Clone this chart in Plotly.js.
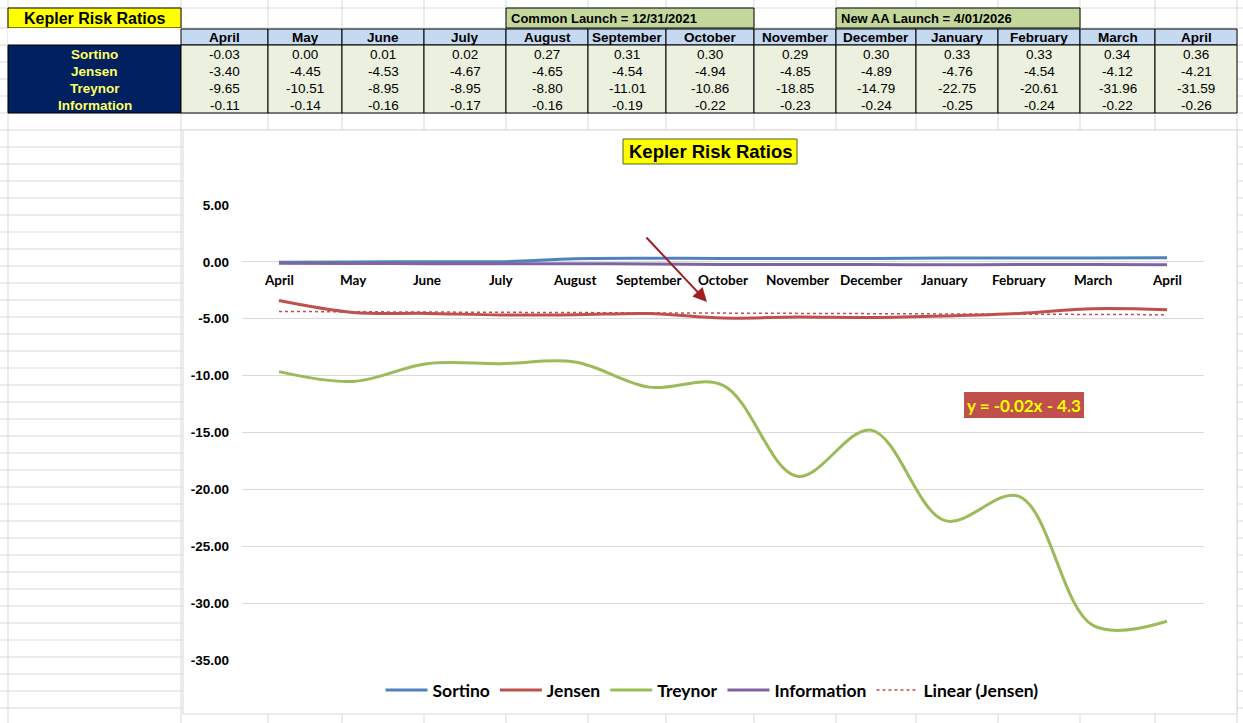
<!DOCTYPE html>
<html>
<head>
<meta charset="utf-8">
<script src="https://cdn.plot.ly/plotly-3.0.1.min.js"></script>
<style>
  html, body { margin: 0; padding: 0; background: #fff; }
  #chart { width: 1243px; height: 723px; }
</style>
</head>
<body>
<div id="chart"></div>
<script>
// ---- data ----
const months = ["April", "May", "June", "July", "August", "September", "October",
  "November", "December", "January", "February", "March", "April"];
const sortino = [-0.03, 0.00, 0.01, 0.02, 0.27, 0.31, 0.30, 0.29, 0.30, 0.33, 0.33, 0.34, 0.36];
const jensen = [-3.40, -4.45, -4.53, -4.67, -4.65, -4.54, -4.94, -4.85, -4.89, -4.76, -4.54, -4.12, -4.21];
const treynor = [-9.65, -10.51, -8.95, -8.95, -8.80, -11.01, -10.86, -18.85, -14.79, -22.75, -20.61, -31.96, -31.59];
const information = [-0.11, -0.14, -0.16, -0.17, -0.16, -0.19, -0.22, -0.23, -0.24, -0.25, -0.24, -0.22, -0.26];
const seriesNames = ["Sortino", "Jensen", "Treynor", "Information"];
const yTicks = [5, 0, -5, -10, -15, -20, -25, -30, -35];
const sheetTitle = "Kepler Risk Ratios";
const chartTitle = "Kepler Risk Ratios";
const launchNotes = ["Common Launch = 12/31/2021", "New AA Launch = 4/01/2026"];

// ---- page geometry (pixels of the 1243x723 sheet) ----
const W = 1243, H = 723;
const colEdges = [8, 181, 268, 342, 424, 506, 588, 666, 754, 836, 916, 998, 1080, 1155, 1237];
const rowTop = [8, 28, 45, 62, 79, 96, 113];
const px = (x) => x / W;
const py = (y) => 1 - y / H;

const colors = ["#4F81BD", "#C0504D", "#9BBB59", "#8064A2"];
const tableFont = "Liberation Sans Narrow, Arial Narrow, Liberation Sans, Arial, sans-serif";
const chartFont = "Lato, Carlito, Calibri, sans-serif";

// least squares trend for Jensen (x = 1..n like Excel)
function linearFit(ys) {
  const n = ys.length;
  let sx = 0, sy = 0, sxy = 0, sxx = 0;
  ys.forEach((y, i) => {
    const x = i + 1;
    sx += x; sy += y; sxy += x * y; sxx += x * x;
  });
  const slope = (n * sxy - sx * sy) / (n * sxx - sx * sx);
  const intercept = (sy - slope * sx) / n;
  return { slope, intercept };
}
const fit = linearFit(jensen);
const trendY = jensen.map((_, i) => fit.slope * (i + 1) + fit.intercept);
const trendLabel = "y = " + fit.slope.toFixed(2) + "x " + (fit.intercept < 0 ? "- " : "+ ") +
  Math.abs(fit.intercept).toFixed(1);

const xIdx = months.map((_, i) => i);

// ---- traces ----
const traces = [sortino, jensen, treynor, information].map((vals, k) => ({
  x: xIdx,
  y: vals,
  name: seriesNames[k],
  type: "scatter",
  mode: "lines",
  line: { color: colors[k], width: 3, shape: "spline", smoothing: 1 },
}));
traces.push({
  x: xIdx,
  y: trendY,
  name: "Linear (Jensen)",
  type: "scatter",
  mode: "lines",
  line: { color: "#C0504D", width: 1.5, dash: "dot" },
});

// ---- shapes: sheet grid, chart area, table cells ----
const shapes = [];
function rect(x0, y0, x1, y1, fill, lineColor, lw) {
  shapes.push({
    type: "rect", xref: "paper", yref: "paper", layer: "below",
    x0: px(x0), x1: px(x1), y0: py(y1), y1: py(y0),
    fillcolor: fill, line: { color: lineColor || "rgba(0,0,0,0)", width: lw === undefined ? 1 : lw },
  });
}
function hline(y, x0, x1, c) {
  shapes.push({ type: "line", xref: "paper", yref: "paper", layer: "below",
    x0: px(x0), x1: px(x1), y0: py(y), y1: py(y), line: { color: c, width: 1 } });
}
function vline(x, y0, y1, c) {
  shapes.push({ type: "line", xref: "paper", yref: "paper", layer: "below",
    x0: px(x), x1: px(x), y0: py(y0), y1: py(y1), line: { color: c, width: 1 } });
}

// spreadsheet gridlines
const sheetGrid = "#D9D9D9";
rowTop.forEach((y) => hline(y, 0, W, sheetGrid));
for (let y = 130; y <= H; y += 17) hline(y, 0, W, sheetGrid);
colEdges.forEach((x) => vline(x, 0, H, sheetGrid));

// chart area
rect(183, 130, 1237, 714, "#FFFFFF", "#D9D9D9", 1);

// title cell + launch notes
rect(8, 8, 181, 28, "#FFFF00", "#000000", 1);
rect(colEdges[5], 8, colEdges[8], 28, "#C4D79B", "#000000", 1);
rect(colEdges[9], 8, colEdges[12], 28, "#C4D79B", "#000000", 1);
// header row
rect(8, 28, 181, 45, "#FFFFFF", null, 0);
for (let c = 0; c < months.length; c++) {
  rect(colEdges[c + 1], 29, colEdges[c + 2], 45, "#C5D9F1", "#000000", 1);
}
// label block + value block
rect(8, 45, 181, 113, "#002060", "#000000", 1);
for (let c = 0; c < months.length; c++) {
  rect(colEdges[c + 1], 45, colEdges[c + 2], 113, "#EBF1DE", "#000000", 1);
}
// chart title box
rect(623, 139, 797, 164, "#FFFF00", "#4F6228", 1);

// ---- annotations ----
const annotations = [];
function label(text, x, y, opts) {
  annotations.push(Object.assign({
    text, x: px(x), y: py(y), xref: "paper", yref: "paper", showarrow: false,
    xanchor: "center", yanchor: "middle",
    font: { family: tableFont, size: 13, color: "#000" },
  }, opts || {}));
}
label(sheetTitle, 94, 18, { font: { family: "Liberation Sans, Arial, sans-serif", size: 16, color: "#000", weight: "bold" } });
label(launchNotes[0], colEdges[5] + 3, 18, { xanchor: "left", font: { family: tableFont, size: 13, color: "#000", weight: "bold" } });
label(launchNotes[1], colEdges[9] + 3, 18, { xanchor: "left", font: { family: tableFont, size: 13, color: "#000", weight: "bold" } });

months.forEach((m, c) => {
  const cx = (colEdges[c + 1] + colEdges[c + 2]) / 2;
  label(m, cx, 37.5, { font: { family: tableFont, size: 13.5, color: "#000", weight: "bold" } });
});
const rowsData = [sortino, jensen, treynor, information];
seriesNames.forEach((n, r) => {
  const cy = 54.5 + r * 17;
  label(n, 95, cy, { font: { family: tableFont, size: 13.5, color: "#FFFF66", weight: "bold" } });
  rowsData[r].forEach((v, c) => {
    const cx = (colEdges[c + 1] + colEdges[c + 2]) / 2;
    label(v.toFixed(2), cx, cy, { font: { family: tableFont, size: 13.5, color: "#000" } });
  });
});

label(chartTitle, 710, 151.5, { font: { family: "Liberation Sans, Arial, sans-serif", size: 18.5, color: "#000", weight: "bold" } });

// category labels sit on the zero line, as in the sheet chart
months.forEach((m, i) => {
  annotations.push({
    text: m, x: i, y: 0, xref: "x", yref: "y", showarrow: false,
    yanchor: "top", yshift: -8,
    font: { family: chartFont, size: 13.5, color: "#000", weight: "bold" },
  });
});

// arrow
annotations.push({
  text: "", x: px(707), y: py(302), xref: "paper", yref: "paper",
  showarrow: true, ax: -62, ay: -66, arrowhead: 2, arrowsize: 1.4,
  arrowwidth: 2, arrowcolor: "#A01E23",
});

// trendline equation
rect(964, 392, 1084, 418, "#C0504D", null, 0);
label(trendLabel, 1024, 405, { font: { family: chartFont, size: 17, color: "#FFFF00", weight: "bold" } });

const layout = {
  width: W,
  height: H,
  margin: { l: 0, r: 0, t: 0, b: 0 },
  paper_bgcolor: "#FFFFFF",
  plot_bgcolor: "rgba(0,0,0,0)",
  showlegend: true,
  xaxis: {
    domain: [px(242), px(1204)],
    range: [-0.5, months.length - 0.5],
    showticklabels: false,
    showgrid: false,
    zeroline: false,
    fixedrange: true,
  },
  yaxis: {
    domain: [py(660), py(205)],
    range: [-35, 5],
    tickvals: yTicks,
    ticktext: yTicks.map((v) => v.toFixed(2)),
    tickfont: { family: "Liberation Sans, Arial, sans-serif", size: 13.5, color: "#000", weight: "bold" },
    ticklabelstandoff: 12,
    showgrid: true,
    gridcolor: "#D9D9D9",
    gridwidth: 1,
    zeroline: false,
    showline: false,
    fixedrange: true,
  },
  legend: {
    orientation: "h",
    x: px(712),
    xanchor: "center",
    y: py(690),
    yanchor: "middle",
    bgcolor: "rgba(0,0,0,0)",
    font: { family: chartFont, size: 17.5, color: "#000", weight: "bold" },
    itemwidth: 42,
  },
  shapes,
  annotations,
};

Plotly.newPlot("chart", traces, layout, { displayModeBar: false, staticPlot: true });
</script>
</body>
</html>
